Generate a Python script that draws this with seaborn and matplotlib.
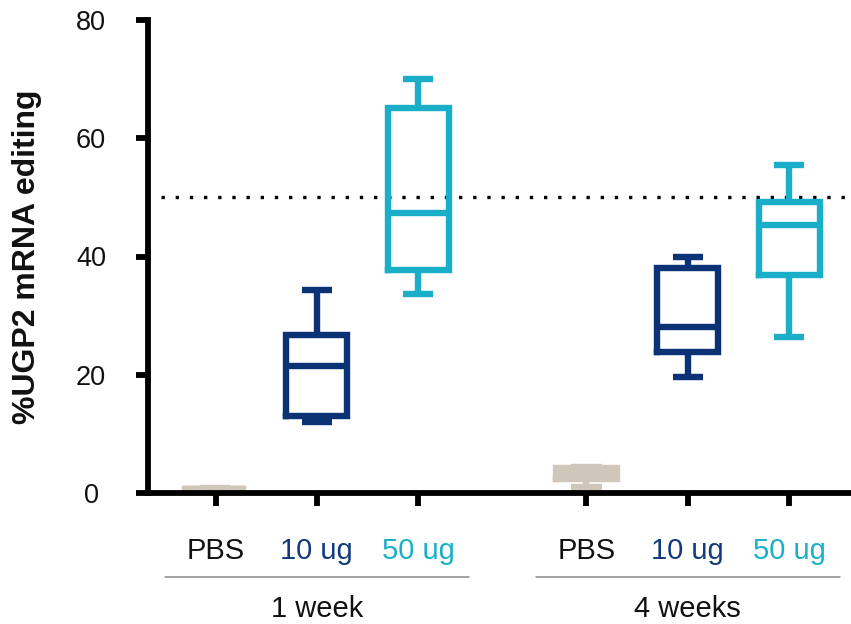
import matplotlib
matplotlib.use("Agg")
import matplotlib.pyplot as plt
import matplotlib.transforms as mtransforms
import pandas as pd
import seaborn as sns

# ---------------- data ----------------
timepoints = ["1 week", "4 weeks"]
doses = ["PBS", "10 ug", "50 ug"]
# five-number summaries per box: min, q1, median, q3, max
week1_pbs = [0.6, 0.65, 0.7, 0.75, 0.8]
week1_10ug = [12.0, 13.0, 21.5, 26.8, 34.3]
week1_50ug = [33.7, 37.7, 47.3, 65.1, 70.0]
week4_pbs = [0.95, 2.45, 3.3, 4.15, 4.4]
week4_10ug = [19.7, 23.9, 28.1, 38.1, 40.0]
week4_50ug = [26.4, 36.9, 45.3, 49.3, 55.5]
threshold = 50
y_ticks = [0, 20, 40, 60, 80]
y_label = "%UGP2 mRNA editing"

# ---------------- styling ----------------
dose_colors = {"PBS": "#CFC8BA", "10 ug": "#0B3275", "50 ug": "#1AAEC8"}
label_colors = {"PBS": "#111111", "10 ug": "#133A7C", "50 ug": "#1AB0C8"}
group_gap = 3.66

sns.set_style("ticks")
plt.rcParams["font.family"] = ["Liberation Sans", "DejaVu Sans"]

series = {
    ("1 week", "PBS"): week1_pbs,
    ("1 week", "10 ug"): week1_10ug,
    ("1 week", "50 ug"): week1_50ug,
    ("4 weeks", "PBS"): week4_pbs,
    ("4 weeks", "10 ug"): week4_10ug,
    ("4 weeks", "50 ug"): week4_50ug,
}
rows = []
positions = []
tick_labels = []
for ti, t in enumerate(timepoints):
    for di, d in enumerate(doses):
        pos = ti * group_gap + di
        positions.append(pos)
        tick_labels.append(d)
        for v in series[(t, d)]:
            rows.append({"pos": pos, "dose": d, "time": t, "value": v})
df = pd.DataFrame(rows)

fig = plt.figure(figsize=(8.51, 6.24), dpi=100)
W, H = 851, 624
ax = fig.add_axes([148 / W, (H - 493) / H, (W - 148) / W, 473 / H])

sns.boxplot(
    data=df, x="pos", y="value", hue="dose", hue_order=doses,
    palette=dose_colors, native_scale=True, dodge=False, fill=False,
    width=0.6, linewidth=4.6, whis=(0, 100), legend=False, ax=ax,
)

# square line ends; square corners on the box outlines
for ln in ax.lines:
    if len(ln.get_xdata()) == 5:
        ln.set_solid_capstyle("projecting")
        ln.set_solid_joinstyle("miter")
    else:
        ln.set_solid_capstyle("butt")

ax.set_xlim(-0.666, 6.27)
ax.set_ylim(0, 80)

# dotted threshold line
ax.plot([-0.54, 6.27], [threshold, threshold], color="black", lw=2.4,
        linestyle=(0, (1, 3.25)), zorder=1)

# spines & ticks
sns.despine(ax=ax)
for s in ["left", "bottom"]:
    ax.spines[s].set_linewidth(4.2)
    ax.spines[s].set_color("black")
ax.spines["left"].set_capstyle("projecting")

ax.set_yticks(y_ticks)
ax.set_yticklabels([str(v) for v in y_ticks])
ax.tick_params(axis="y", length=9, width=4.2, color="black",
               labelsize=19.5, labelcolor="#111111", pad=32, direction="out")
for lab in ax.get_yticklabels():
    lab.set_horizontalalignment("center")

ax.set_xticks(positions)
ax.set_xticklabels(tick_labels)
ax.tick_params(axis="x", length=9, width=4.2, color="black",
               labelsize=21, pad=23, direction="out")
for lab, d in zip(ax.get_xticklabels(), tick_labels):
    lab.set_color(label_colors[d])
ax.set_xlabel("")

ax.set_ylabel(y_label, fontsize=23, fontweight="bold", color="#111111")
ax.yaxis.set_label_coords(-0.172, 0.5)
ax.yaxis.label.set_verticalalignment("center")
ax.yaxis.label.set_rotation_mode("default")

# group brackets & labels
trans = mtransforms.blended_transform_factory(ax.transData, ax.transAxes)
for ti, t in enumerate(timepoints):
    start = ti * group_gap - 0.5
    end = ti * group_gap + len(doses) - 0.5
    ax.plot([start, end], [-0.178, -0.178], color="#8A8A8A", lw=1.1,
            transform=trans, clip_on=False)
    ax.text(ti * group_gap + 1, (493 - 617) / 473, t, transform=trans,
            ha="center", va="baseline", fontsize=21, color="#111111")

fig.savefig("out.png", dpi=100)
